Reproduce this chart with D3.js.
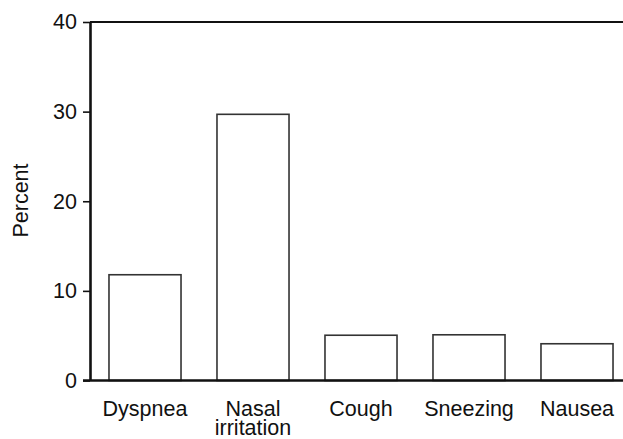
<!DOCTYPE html>
<html>
<head>
<meta charset="utf-8">
<script src="https://cdn.jsdelivr.net/npm/d3@7"></script>
<style>
  body { margin: 0; background: #fff; }
  #chart { width: 623px; height: 439px; }
  text { font-family: "Liberation Sans", Arial, sans-serif; fill: #111; }
</style>
</head>
<body>
<div id="chart"></div>
<script>
const categories = ["Dyspnea", "Nasal\nirritation", "Cough", "Sneezing", "Nausea"];
const percents = [11.8, 29.7, 5.05, 5.1, 4.1];
const yTicks = [0, 10, 20, 30, 40];

const margin = { top: 22, left: 90, right: 0, bottom: 58.5 };
const width = 623 - margin.left - margin.right;
const height = 439 - margin.top - margin.bottom;
const fontSize = "21.5px";

const svg = d3.select("#chart")
    .append("svg")
    .attr("width", 623)
    .attr("height", 439);

const g = svg.append("g")
    .attr("transform", `translate(${margin.left},${margin.top})`);

const x = d3.scaleBand()
    .domain(categories)
    .range([1, 541])
    .paddingInner(0.333)
    .paddingOuter(0.1665);

const y = d3.scaleLinear()
    .domain([0, 40])
    .range([height, 0]);

// bars
g.selectAll("rect.bar")
    .data(percents)
    .join("rect")
    .attr("class", "bar")
    .attr("x", (d, i) => x(categories[i]))
    .attr("y", d => y(d))
    .attr("width", x.bandwidth())
    .attr("height", d => height - y(d))
    .attr("fill", "#fff")
    .attr("stroke", "#333")
    .attr("stroke-width", 1.6);

// top frame line
g.append("line")
    .attr("x1", 0).attr("x2", width)
    .attr("y1", y(40)).attr("y2", y(40))
    .attr("stroke", "#111")
    .attr("stroke-width", 2.2);

// y axis
const yAxis = g.append("g")
    .call(d3.axisLeft(y).tickValues(yTicks).tickSize(7).tickSizeOuter(0).tickPadding(6));
yAxis.select(".domain").attr("stroke", "#111").attr("stroke-width", 2.6);
yAxis.selectAll(".tick line").attr("stroke", "#111").attr("stroke-width", 1.6);
yAxis.selectAll(".tick text")
    .style("font-size", fontSize)
    .style("font-family", "Liberation Sans, Arial, sans-serif")
    .attr("fill", "#111");

// x axis
const xAxis = g.append("g")
    .attr("transform", `translate(0,${height})`)
    .call(d3.axisBottom(x).tickSize(0).tickSizeOuter(0).tickFormat(""));
xAxis.select(".domain")
    .attr("d", `M-7,0H${width}`)
    .attr("stroke", "#111").attr("stroke-width", 2.6);

// category labels (some wrap on two lines)
g.selectAll("text.cat")
    .data(categories)
    .join("text")
    .attr("class", "cat")
    .attr("text-anchor", "middle")
    .style("font-size", fontSize)
    .each(function (d) {
        const lines = d.split("\n");
        const t = d3.select(this);
        lines.forEach((ln, k) => {
            t.append("tspan")
                .attr("x", x(d) + x.bandwidth() / 2)
                .attr("y", height + 35.5 + k * 18.8)
                .text(ln);
        });
    });

// y axis title
svg.append("text")
    .attr("transform", "translate(28,200.5) rotate(-90)")
    .attr("text-anchor", "middle")
    .style("font-size", fontSize)
    .text("Percent");
</script>
</body>
</html>
